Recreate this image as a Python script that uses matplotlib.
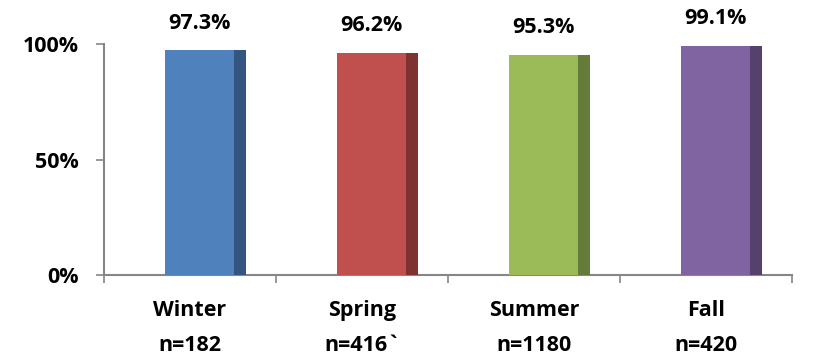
import matplotlib.pyplot as plt
import numpy as np
from matplotlib.ticker import FixedLocator, PercentFormatter

plt.rcParams["font.family"] = ["Open Sans", "DejaVu Sans"]
plt.rcParams["font.weight"] = "bold"

seasons = ["Winter", "Spring", "Summer", "Fall"]
counts = ["n=182", "n=416`", "n=1180", "n=420"]
rates = [97.3, 96.2, 95.3, 99.1]
front_colors = ["#4F81BD", "#C0504D", "#9BBB59", "#8064A2"]
side_colors = ["#34557F", "#7F3331", "#657B3A", "#54426C"]

fig = plt.figure(figsize=(8.25, 3.54), dpi=100)
ax = fig.add_axes([104 / 825, 79 / 354, 688 / 825, 231 / 354])

x = np.arange(len(seasons))
front_w = 0.40
side_w = 0.07
front_left = x - 0.145

# front face plus a darker strip on the right to fake the 3D side
ax.bar(front_left, rates, width=front_w, align="edge", color=front_colors, zorder=3)
ax.bar(front_left + front_w, rates, width=side_w, align="edge", color=side_colors, zorder=3)

for xi, r in zip(front_left, rates):
    ax.annotate(f"{r:.1f}%", (xi + front_w / 2, r), xytext=(0, 19.5),
                textcoords="offset points", ha="center", va="center",
                fontsize=15.5, fontweight="bold")

ax.set_xlim(-0.5, len(seasons) - 0.5)
ax.set_ylim(0, 100)
ax.yaxis.set_major_locator(FixedLocator([0, 50, 100]))
ax.yaxis.set_major_formatter(PercentFormatter(decimals=0))

ax.set_xticks(x)
ax.set_xticklabels([f"{s}\n{n}" for s, n in zip(seasons, counts)], linespacing=1.85)
ax.set_xticks(np.arange(-0.5, len(seasons)), minor=True)
ax.tick_params(axis="x", which="major", length=0, pad=18, labelsize=15.5)
ax.tick_params(axis="x", which="minor", length=6, width=1.2, color="#868686", direction="out")
ax.tick_params(axis="y", length=6, width=1.2, color="#868686", pad=12, labelsize=15.5)

for side in ["top", "right"]:
    ax.spines[side].set_visible(False)
for side in ["left", "bottom"]:
    ax.spines[side].set_color("#868686")
    ax.spines[side].set_linewidth(1.5)

plt.savefig("out.png", dpi=100)
plt.close(fig)
